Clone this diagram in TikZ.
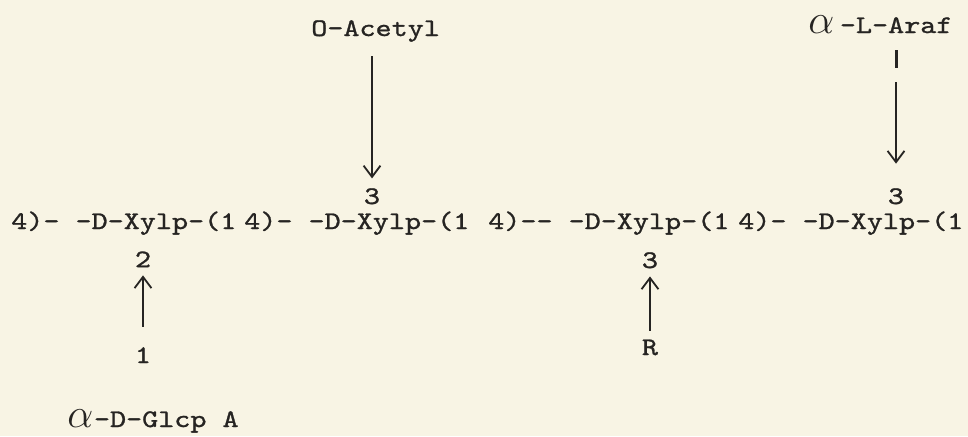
\documentclass[tikz,border=0pt]{standalone}
\usepackage{fontspec}
\usepackage{graphicx}
\usepackage{tikz}
\usetikzlibrary{arrows.meta}
\newfontfamily\typer{lmmono10-regular.otf}[FakeStretch=1.21,FakeBold=1.1]
\definecolor{paper}{RGB}{248,244,228}
\definecolor{ink}{RGB}{38,36,34}
\newcommand{\alf}{\scalebox{1.7}{$\alpha$}}

\begin{document}
\begin{tikzpicture}[
  txt/.style={font=\typer\fontsize{18}{21}\selectfont, text=ink, inner sep=0},
  link/.style={draw=ink, line width=1.3pt, -{Straight Barb[length=8pt,width=12pt]}}]
\fill[paper] (0,0) rectangle (24.2,10.9);
% backbone
\node[txt, anchor=base west] (xyl1) at (0.275,5.175) {4)- -D-Xylp-(1};
\node[txt, anchor=base west] (xyl2) at (6.1,5.175) {4)- -D-Xylp-(1};
\node[txt, anchor=base west] (xyl3) at (12.2,5.175) {4)-- -D-Xylp-(1};
\node[txt, anchor=base west] (xyl4) at (18.45,5.175) {4)- -D-Xylp-(1};
% positions
\node[txt, anchor=base] (acet3) at (9.3,5.8) {3};
\node[txt, anchor=base] (ara3) at (22.4,5.8) {3};
\node[txt, anchor=base] (glc2) at (3.575,4.22) {2};
\node[txt, anchor=base] (xyl3low) at (16.25,4.2) {3};
% side groups
\node[txt, anchor=base west] (acetyl) at (7.775,10.0) {O-Acetyl};
\node[txt, anchor=base west] (araf) at (20.2,10.075) {\alf\kern4pt-L-Araf};
\node[fill=ink, inner sep=0, minimum width=0.075cm, minimum height=0.45cm] (tick) at (22.4,9.425) {};
\node[txt, anchor=base] (glcone) at (3.575,1.825) {1};
\node[txt, anchor=base west] (glca) at (1.675,0.225) {\alf\kern0.5pt-D-Glcp A};
\node[txt, anchor=base] (rgrp) at (16.25,2.025) {R};
% links
\draw[link, shorten <=10pt, shorten >=6.8pt] (acetyl.south -| acet3.north) -- (acet3.north);
\draw[link, shorten <=9.8pt, shorten >=17.3pt] (tick.south) -- (ara3.north);
\draw[link, shorten <=14.5pt, shorten >=5.6pt] (glcone.north) -- (glc2.south);
\draw[link, shorten <=6pt, shorten >=5.6pt] (rgrp.north) -- (xyl3low.south);
\end{tikzpicture}
\end{document}
